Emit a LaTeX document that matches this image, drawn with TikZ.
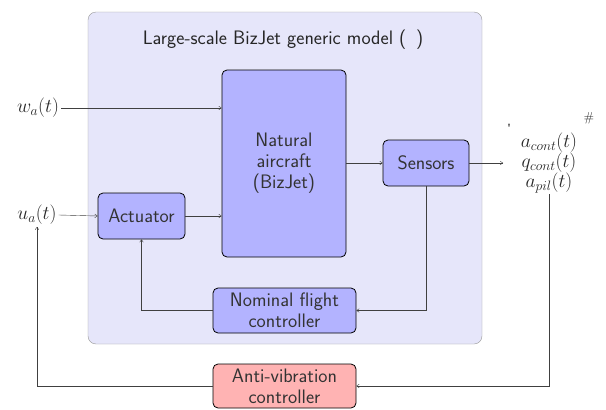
\RequirePackage{fix-cm}
\documentclass[tikz,border=0pt]{standalone}
\usepackage{amsmath}
\usepackage{fontspec}
\usetikzlibrary{arrows.meta,positioning}

\definecolor{modelbg}{HTML}{E6E6FA}
\definecolor{blockblue}{HTML}{B3B3FF}
\definecolor{blockred}{HTML}{FFB3B3}
\definecolor{wire}{HTML}{404040}

\tikzset{
    block/.style={draw=black, thick, rounded corners=5pt, fill=blockblue,
        text=black!80, align=center, inner sep=0pt},
    signal/.style={draw=wire, -{To[length=3pt,width=4pt]}},
    lbl/.style={text=black!85, inner sep=2pt}
}

\begin{document}
\begin{tikzpicture}[x=1pt, y=-1pt, font=\fontsize{19.5}{21}\selectfont\sffamily]
    \useasboundingbox (0,0) rectangle (606,410);
    % generic model frame
    \draw[draw=black!40, fill=modelbg, rounded corners=8pt] (88,12) rectangle (482,344);
    \node[lbl] (title) at (283,40) {Large-scale BizJet generic model (\hspace{0.5em})};

    % blocks
    \node[block, minimum width=124pt, minimum height=187pt] (air) at (284,163.5)
        {Natural\\aircraft\\(BizJet)};
    \node[block, minimum width=86pt, minimum height=46pt] (sen) at (426,163) {Sensors};
    \node[block, minimum width=87pt, minimum height=46pt] (act) at (141.5,216) {Actuator};
    \node[block, minimum width=143pt, minimum height=45pt] (nfc) at (284.5,310.5)
        {Nominal flight\\controller};
    \node[block, fill=blockred, minimum width=143pt, minimum height=44pt] (avc) at (284.5,386)
        {Anti-vibration\\controller};

    % inputs and outputs
    \node[lbl] (wa) at (38,108) {$w_a(t)$};
    \node[lbl] (ua) at (37,215) {$u_a(t)$};
    \node[lbl, align=center, inner sep=1pt] (out) at (549,163)
        {$a_{cont}(t)$\\[-1pt]$q_{cont}(t)$\\[-1pt]$a_{pil}(t)$};
    \node[lbl, font=\fontsize{12}{12}\selectfont] (lq) at (509,128) {\textquotedbl};
    \node[lbl, font=\fontsize{13}{13}\selectfont] (rq) at (589,118) {\#};
    \coordinate (y) at (503,163);

    % signal flow
    \draw[signal] (wa.east) -- (wa.east -| air.west);
    \draw[signal] (ua.east) -- (act.west);
    \draw[signal] (act.east) -- (act.east -| air.west);
    \draw[signal] (air.east |- sen.west) -- (sen.west);
    \draw[signal] (sen.east) -- (y);
    \draw[signal] (sen.south) |- (nfc.east);
    \draw[signal] (nfc.west) -| (act.south);
    \draw[signal] (out.south) |- (avc.east);
    \draw[signal] (avc.west) -| (ua.south);
\end{tikzpicture}
\end{document}
